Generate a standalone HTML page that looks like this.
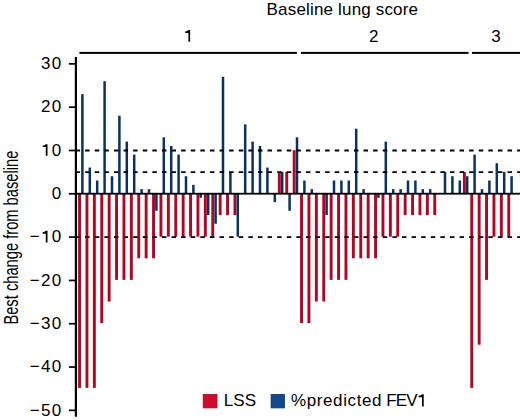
<!DOCTYPE html>
<html><head><meta charset="utf-8"><style>
html,body{margin:0;padding:0;background:#fff;}
svg{display:block;}
text{font-family:"Liberation Sans",sans-serif;fill:#000;}
</style></head><body>
<svg width="520" height="420" viewBox="0 0 520 420">
<rect width="520" height="420" fill="#fff"/>
<text x="266.6" y="15" font-size="17" letter-spacing="0.17">Baseline lung score</text>
<path d="M188.40,30.10L190.10,30.10L190.10,41.70L188.40,41.70L188.40,33.00L185.20,33.00L185.20,31.60Q187.40,31.50 188.40,30.10Z" fill="#000"/>
<text x="373.8" y="42" font-size="17" text-anchor="middle">2</text>
<text x="495.9" y="42" font-size="17" text-anchor="middle">3</text>
<rect x="79.4" y="51.9" width="217.5" height="2" fill="#000"/>
<rect x="301" y="51.9" width="167.5" height="2" fill="#000"/>
<rect x="472" y="51.9" width="48" height="2" fill="#000"/>
<g><rect x="78.10" y="193.70" width="2.9" height="194.18" fill="#b00622"/><rect x="81.15" y="94.12" width="2.5" height="99.58" fill="#09335f"/><rect x="85.50" y="193.70" width="2.9" height="194.18" fill="#b00622"/><rect x="88.55" y="167.56" width="2.5" height="26.14" fill="#09335f"/><rect x="92.90" y="193.70" width="2.9" height="194.18" fill="#b00622"/><rect x="95.95" y="180.52" width="2.5" height="13.18" fill="#09335f"/><rect x="100.30" y="193.70" width="2.9" height="129.38" fill="#b00622"/><rect x="103.35" y="81.16" width="2.5" height="112.54" fill="#09335f"/><rect x="107.70" y="193.70" width="2.9" height="107.78" fill="#b00622"/><rect x="110.75" y="176.20" width="2.5" height="17.50" fill="#09335f"/><rect x="115.10" y="193.70" width="2.9" height="86.18" fill="#b00622"/><rect x="118.15" y="115.72" width="2.5" height="77.98" fill="#09335f"/><rect x="122.50" y="193.70" width="2.9" height="86.18" fill="#b00622"/><rect x="125.55" y="141.64" width="2.5" height="52.06" fill="#09335f"/><rect x="129.90" y="193.70" width="2.9" height="86.18" fill="#b00622"/><rect x="132.95" y="154.60" width="2.5" height="39.10" fill="#09335f"/><rect x="137.30" y="193.70" width="2.9" height="64.58" fill="#b00622"/><rect x="140.35" y="189.16" width="2.5" height="4.54" fill="#09335f"/><rect x="144.70" y="193.70" width="2.9" height="64.58" fill="#b00622"/><rect x="147.75" y="189.16" width="2.5" height="4.54" fill="#09335f"/><rect x="152.10" y="193.70" width="2.9" height="64.58" fill="#b00622"/><rect x="155.15" y="193.70" width="2.5" height="17.06" fill="#09335f"/><rect x="159.50" y="193.70" width="2.9" height="42.98" fill="#b00622"/><rect x="162.55" y="137.32" width="2.5" height="56.38" fill="#09335f"/><rect x="166.90" y="193.70" width="2.9" height="42.98" fill="#b00622"/><rect x="169.95" y="145.96" width="2.5" height="47.74" fill="#09335f"/><rect x="174.30" y="193.70" width="2.9" height="42.98" fill="#b00622"/><rect x="177.35" y="154.60" width="2.5" height="39.10" fill="#09335f"/><rect x="181.70" y="193.70" width="2.9" height="42.98" fill="#b00622"/><rect x="184.75" y="176.20" width="2.5" height="17.50" fill="#09335f"/><rect x="189.10" y="193.70" width="2.9" height="42.98" fill="#b00622"/><rect x="192.15" y="184.84" width="2.5" height="8.86" fill="#09335f"/><rect x="196.50" y="193.70" width="2.9" height="42.98" fill="#b00622"/><rect x="199.55" y="193.70" width="2.5" height="4.10" fill="#09335f"/><rect x="203.90" y="193.70" width="2.9" height="42.98" fill="#b00622"/><rect x="206.95" y="193.70" width="2.5" height="21.38" fill="#09335f"/><rect x="211.30" y="193.70" width="2.9" height="42.98" fill="#b00622"/><rect x="214.35" y="193.70" width="2.5" height="30.02" fill="#09335f"/><rect x="218.70" y="193.70" width="2.9" height="21.38" fill="#b00622"/><rect x="221.75" y="76.84" width="2.5" height="116.86" fill="#09335f"/><rect x="226.10" y="193.70" width="2.9" height="21.38" fill="#b00622"/><rect x="229.15" y="171.88" width="2.5" height="21.82" fill="#09335f"/><rect x="233.50" y="193.70" width="2.9" height="21.38" fill="#b00622"/><rect x="236.55" y="193.70" width="2.5" height="42.98" fill="#09335f"/><rect x="243.95" y="124.36" width="2.5" height="69.34" fill="#09335f"/><rect x="251.35" y="141.64" width="2.5" height="52.06" fill="#09335f"/><rect x="258.75" y="145.96" width="2.5" height="47.74" fill="#09335f"/><rect x="266.15" y="167.56" width="2.5" height="26.14" fill="#09335f"/><rect x="273.55" y="193.70" width="2.5" height="8.42" fill="#09335f"/><rect x="277.90" y="171.88" width="2.9" height="21.82" fill="#b00622"/><rect x="280.95" y="171.88" width="2.5" height="21.82" fill="#09335f"/><rect x="285.30" y="171.88" width="2.9" height="21.82" fill="#b00622"/><rect x="288.35" y="193.70" width="2.5" height="17.06" fill="#09335f"/><rect x="292.70" y="150.28" width="2.9" height="43.42" fill="#b00622"/><rect x="295.75" y="137.32" width="2.5" height="56.38" fill="#09335f"/><rect x="300.10" y="193.70" width="2.9" height="129.38" fill="#b00622"/><rect x="303.15" y="180.52" width="2.5" height="13.18" fill="#09335f"/><rect x="307.50" y="193.70" width="2.9" height="129.38" fill="#b00622"/><rect x="310.55" y="189.16" width="2.5" height="4.54" fill="#09335f"/><rect x="314.90" y="193.70" width="2.9" height="107.78" fill="#b00622"/><rect x="322.30" y="193.70" width="2.9" height="107.78" fill="#b00622"/><rect x="325.35" y="193.70" width="2.5" height="21.38" fill="#09335f"/><rect x="329.70" y="193.70" width="2.9" height="86.18" fill="#b00622"/><rect x="332.75" y="180.52" width="2.5" height="13.18" fill="#09335f"/><rect x="337.10" y="193.70" width="2.9" height="86.18" fill="#b00622"/><rect x="340.15" y="180.52" width="2.5" height="13.18" fill="#09335f"/><rect x="344.50" y="193.70" width="2.9" height="86.18" fill="#b00622"/><rect x="347.55" y="180.52" width="2.5" height="13.18" fill="#09335f"/><rect x="351.90" y="193.70" width="2.9" height="64.58" fill="#b00622"/><rect x="354.95" y="128.68" width="2.5" height="65.02" fill="#09335f"/><rect x="359.30" y="193.70" width="2.9" height="64.58" fill="#b00622"/><rect x="362.35" y="189.16" width="2.5" height="4.54" fill="#09335f"/><rect x="366.70" y="193.70" width="2.9" height="64.58" fill="#b00622"/><rect x="374.10" y="193.70" width="2.9" height="64.58" fill="#b00622"/><rect x="377.15" y="193.70" width="2.5" height="4.10" fill="#09335f"/><rect x="381.50" y="193.70" width="2.9" height="42.98" fill="#b00622"/><rect x="384.55" y="141.64" width="2.5" height="52.06" fill="#09335f"/><rect x="388.90" y="193.70" width="2.9" height="42.98" fill="#b00622"/><rect x="391.95" y="189.16" width="2.5" height="4.54" fill="#09335f"/><rect x="396.30" y="193.70" width="2.9" height="42.98" fill="#b00622"/><rect x="399.35" y="189.16" width="2.5" height="4.54" fill="#09335f"/><rect x="403.70" y="193.70" width="2.9" height="21.38" fill="#b00622"/><rect x="406.75" y="180.52" width="2.5" height="13.18" fill="#09335f"/><rect x="411.10" y="193.70" width="2.9" height="21.38" fill="#b00622"/><rect x="414.15" y="180.52" width="2.5" height="13.18" fill="#09335f"/><rect x="418.50" y="193.70" width="2.9" height="21.38" fill="#b00622"/><rect x="421.55" y="189.16" width="2.5" height="4.54" fill="#09335f"/><rect x="425.90" y="193.70" width="2.9" height="21.38" fill="#b00622"/><rect x="428.95" y="189.16" width="2.5" height="4.54" fill="#09335f"/><rect x="433.30" y="193.70" width="2.9" height="21.38" fill="#b00622"/><rect x="443.75" y="171.88" width="2.5" height="21.82" fill="#09335f"/><rect x="451.15" y="176.20" width="2.5" height="17.50" fill="#09335f"/><rect x="458.55" y="180.52" width="2.5" height="13.18" fill="#09335f"/><rect x="462.90" y="171.88" width="2.9" height="21.82" fill="#b00622"/><rect x="465.95" y="176.20" width="2.5" height="17.50" fill="#09335f"/><rect x="470.30" y="193.70" width="2.9" height="194.18" fill="#b00622"/><rect x="473.35" y="154.60" width="2.5" height="39.10" fill="#09335f"/><rect x="477.70" y="193.70" width="2.9" height="150.98" fill="#b00622"/><rect x="480.75" y="189.16" width="2.5" height="4.54" fill="#09335f"/><rect x="485.10" y="193.70" width="2.9" height="86.18" fill="#b00622"/><rect x="488.15" y="180.52" width="2.5" height="13.18" fill="#09335f"/><rect x="492.50" y="193.70" width="2.9" height="42.98" fill="#b00622"/><rect x="495.55" y="163.24" width="2.5" height="30.46" fill="#09335f"/><rect x="499.90" y="193.70" width="2.9" height="42.98" fill="#b00622"/><rect x="502.95" y="171.88" width="2.5" height="21.82" fill="#09335f"/><rect x="507.30" y="193.70" width="2.9" height="42.98" fill="#b00622"/><rect x="510.35" y="176.20" width="2.5" height="17.50" fill="#09335f"/></g>
<g><line x1="75.55" y1="150.49" x2="520" y2="150.49" stroke="#000" stroke-width="1.8" stroke-dasharray="4.5 5.1"/><line x1="75.55" y1="172.15" x2="520" y2="172.15" stroke="#000" stroke-width="1.8" stroke-dasharray="4.5 5.1"/><line x1="75.55" y1="237.11" x2="520" y2="237.11" stroke="#000" stroke-width="1.8" stroke-dasharray="4.5 5.1"/></g>
<rect x="75.55" y="192.80" width="444.45" height="1.8" fill="#000"/>
<rect x="74.8" y="56.9" width="2.2" height="359.8" fill="#000"/>
<g><rect x="68.9" y="63.02" width="7" height="1.7" fill="#000"/><rect x="68.9" y="106.33" width="7" height="1.7" fill="#000"/><rect x="68.9" y="149.64" width="7" height="1.7" fill="#000"/><rect x="68.9" y="192.95" width="7" height="1.7" fill="#000"/><rect x="68.9" y="236.26" width="7" height="1.7" fill="#000"/><rect x="68.9" y="279.57" width="7" height="1.7" fill="#000"/><rect x="68.9" y="322.88" width="7" height="1.7" fill="#000"/><rect x="68.9" y="366.19" width="7" height="1.7" fill="#000"/><rect x="68.9" y="409.50" width="7" height="1.7" fill="#000"/></g>
<g font-size="17" letter-spacing="1.3"><text x="62.60" y="69.17" text-anchor="end">30</text><text x="62.60" y="112.48" text-anchor="end">20</text><text x="62.60" y="155.79" text-anchor="end"> 0</text><text x="62.60" y="199.10" text-anchor="end">0</text><text x="62.60" y="242.41" text-anchor="end">− 0</text><text x="62.60" y="285.72" text-anchor="end">−20</text><text x="62.60" y="329.03" text-anchor="end">−30</text><text x="62.60" y="372.34" text-anchor="end">−40</text><text x="62.60" y="415.65" text-anchor="end">−50</text></g>
<path d="M45.80,144.19L47.50,144.19L47.50,155.79L45.80,155.79L45.80,147.09L42.60,147.09L42.60,145.69Q44.80,145.59 45.80,144.19Z" fill="#000"/><path d="M45.80,230.81L47.50,230.81L47.50,242.41L45.80,242.41L45.80,233.71L42.60,233.71L42.60,232.31Q44.80,232.21 45.80,230.81Z" fill="#000"/>
<text transform="translate(17.9 324.6) rotate(-90) scale(0.717 1)" font-size="20.5">Best change from baseline</text>
<rect x="203.2" y="394.5" width="13.8" height="13.4" fill="#cf0a2c" stroke="#9a0820" stroke-width="0.8"/>
<text x="223.8" y="406.4" font-size="17" letter-spacing="0.1">LSS</text>
<rect x="271.1" y="394.5" width="13.3" height="13.4" fill="#134a8e" stroke="#0b3366" stroke-width="0.8"/>
<text x="290.9" y="406.4" font-size="17" letter-spacing="0.62">%predicted</text>
<text x="386.2" y="406.4" font-size="17" letter-spacing="-0.8">FEV </text>
<path d="M422.00,394.22L423.70,394.22L423.70,406.40L422.00,406.40L422.00,397.26L418.56,397.26L418.56,395.79Q420.87,395.69 422.00,394.22Z" fill="#000"/>
</svg>
</body></html>
